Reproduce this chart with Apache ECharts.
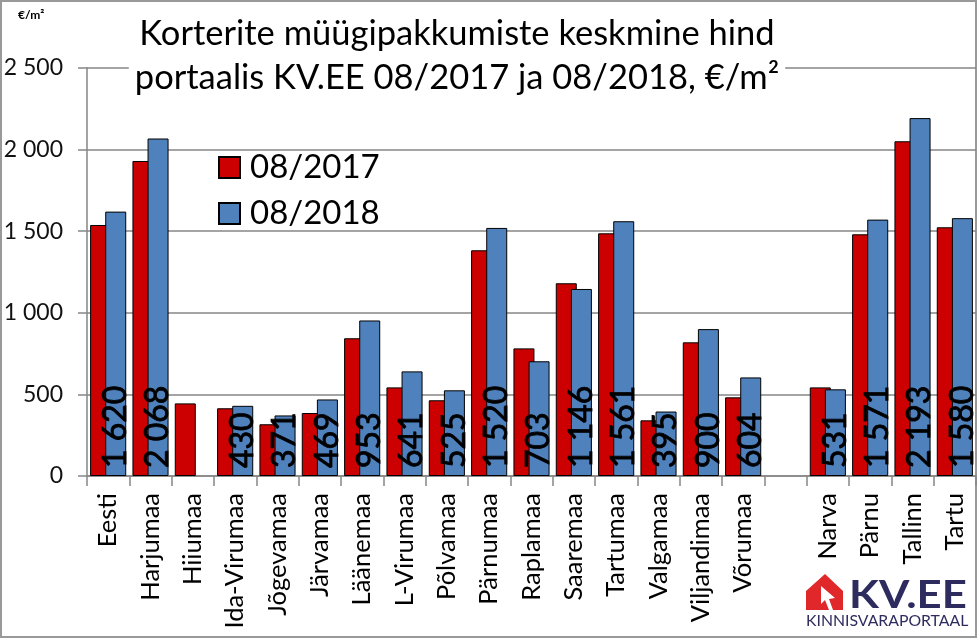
<!DOCTYPE html>
<html><head><meta charset="utf-8">
<script src="https://cdn.jsdelivr.net/npm/echarts@6/dist/echarts.min.js"></script>
<style>html,body{margin:0;padding:0;background:#fff}#c{width:977px;height:638px}</style>
</head><body><div id="c"></div>
<script>
const categories = ['Eesti','Harjumaa','Hiiumaa','Ida-Virumaa','Jõgevamaa','Järvamaa','Läänemaa','L-Virumaa','Põlvamaa','Pärnumaa','Raplamaa','Saaremaa','Tartumaa','Valgamaa','Viljandimaa','Võrumaa','','Narva','Pärnu','Tallinn','Tartu'];
const values2017 = [1538,1930,445,415,317,386,844,543,464,1383,782,1181,1487,341,819,482,null,543,1481,2051,1524];
const values2018 = [1620,2068,null,430,371,469,953,641,525,1520,703,1146,1561,395,900,604,null,531,1571,2193,1580];
const seriesNames = ['08/2017','08/2018'];
const yMin = 0, yMax = 2500, yStep = 500;

const FONT = 'Lato';
function fmt(v){ v = Math.round(v); if (v >= 1000) return Math.floor(v/1000) + ' ' + String(v%1000).padStart(3,'0'); return String(v); }

const chart = echarts.init(document.getElementById('c'), null, {renderer:'canvas'});
chart.setOption({
  backgroundColor:'#fff',
  animation:false,
  textStyle:{fontFamily:FONT},
  title:{
    text:'Korterite müügipakkumiste keskmine hind\nportaalis KV.EE 08/2017 ja 08/2018, €/m²',
    left:451, top:8, textAlign:'center',
    backgroundColor:'#fff', padding:[4,6],
    textStyle:{fontFamily:FONT, fontSize:34.5, fontWeight:'normal', color:'#000', lineHeight:44}
  },
  legend:{
    orient:'vertical', left:218, top:151, itemWidth:21, itemHeight:21, itemGap:13, padding:0,
    icon:'rect',
    textStyle:{fontFamily:FONT, fontSize:33, lineHeight:33, color:'#000', padding:[0,0,0,5]},
    data:seriesNames
  },
  grid:{left:87, right:1, top:68, bottom:162, containLabel:false},
  xAxis:{
    type:'category', data:categories,
    axisLine:{lineStyle:{color:'#868686', width:1.5}},
    axisTick:{show:true, length:10, lineStyle:{color:'#868686', width:1.5}},
    axisLabel:{rotate:90, interval:0, margin:17, fontFamily:FONT, fontSize:25.5, color:'#000'}
  },
  yAxis:{
    type:'value', min:yMin, max:yMax, interval:yStep,
    axisLine:{show:true, lineStyle:{color:'#868686', width:1.5}},
    axisTick:{show:true, length:9, lineStyle:{color:'#868686', width:1.5}},
    splitLine:{lineStyle:{color:'#868686', width:1.5}},
    axisLabel:{margin:24, fontFamily:FONT, fontSize:23, color:'#111', formatter:fmt}
  },
  series:[
    {name:seriesNames[0], type:'bar', data:values2017, barWidth:21, barGap:'-28%',
      itemStyle:{color:'#CC0000', borderColor:'#000', borderWidth:1}},
    {name:seriesNames[1], type:'bar', data:values2018, barWidth:21,
      itemStyle:{color:'#4F81BD', borderColor:'#000', borderWidth:1},
      label:{show:true, position:'insideBottom', rotate:90, align:'left', verticalAlign:'middle', distance:8,
        fontFamily:FONT, fontSize:32, color:'#000', textBorderColor:'#000', textBorderWidth:0.8,
        formatter:p=>fmt(p.value)}}
  ],
  graphic:[
    {type:'rect', shape:{x:1, y:1, width:975, height:636}, style:{fill:'none', stroke:'#999', lineWidth:2}, silent:true},
    {type:'text', left:18, top:9, style:{text:'€/m²', fontFamily:FONT, fontSize:12, fontWeight:'bold', fill:'#000'}},
    {type:'polygon', shape:{points:[[806,591],[825,574],[843,591],[843,610],[806,610]]}, style:{fill:'#E0282A'}},
    {type:'polygon', shape:{points:[[821,586],[821,604],[825,600],[829,610],[833,610],[829,599],[835,598]]}, style:{fill:'#fff'}},
    {type:'text', x:849, y:576, scaleX:1.12, style:{text:'KV.EE', fontFamily:FONT, fontSize:39, fontWeight:'bold', fill:'#2E2B5F', textVerticalAlign:'top'}},
    {type:'text', x:806, y:613, style:{text:'KINNISVARAPORTAAL', fontFamily:FONT, fontSize:15.8, fill:'#2E2B5F', textVerticalAlign:'top'}}
  ]
});
</script></body></html>
